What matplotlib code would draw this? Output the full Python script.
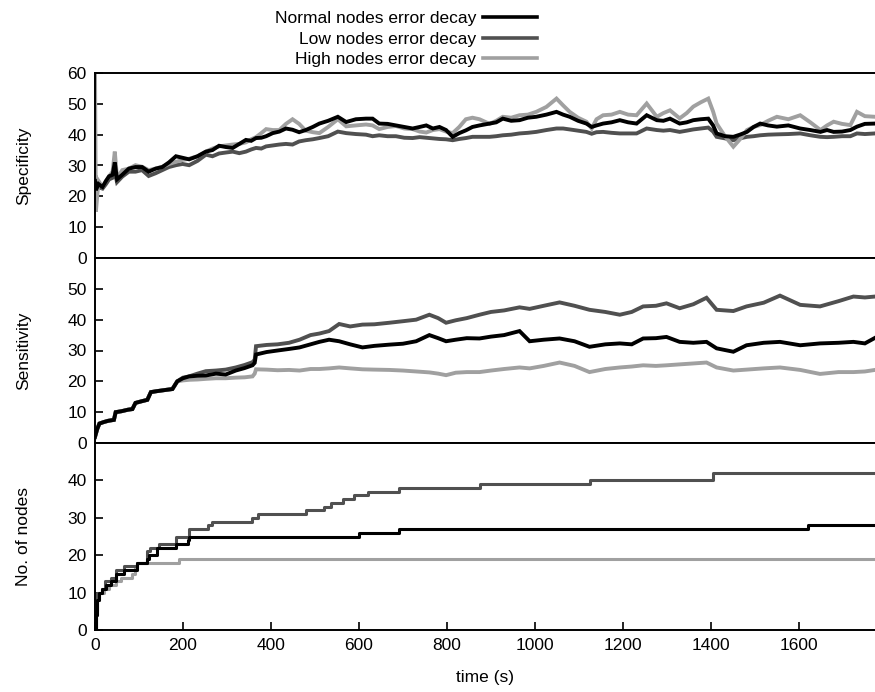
import matplotlib
matplotlib.use("Agg")
import matplotlib.pyplot as plt
from matplotlib.lines import Line2D

plt.rcParams['font.family'] = ['Liberation Sans', 'DejaVu Sans']
plt.rcParams['font.size'] = 12.5

labels = ["Normal nodes error decay", "Low nodes error decay", "High nodes error decay"]
colors = ["#000000", "#505050", "#a0a0a0"]

# ---------------- Specificity ----------------
t_spec = [0, 2, 8, 17, 25, 32, 40, 45, 50, 62, 77, 92, 107, 122, 138, 153, 168, 184, 199, 214,
          233, 252, 267, 282, 297, 313, 328, 343, 355, 366, 378, 389, 404, 419, 434, 449, 464, 479,
          495, 510, 530, 552, 571, 593, 616, 631, 646, 665, 684, 703, 722, 738, 753, 768, 783, 798,
          813, 828, 843, 858, 874, 897, 912, 927, 946, 965, 984, 1003, 1026, 1049, 1064, 1079, 1098,
          1117, 1129, 1140, 1155, 1174, 1193, 1212, 1231, 1254, 1277, 1292, 1307, 1329, 1345, 1360,
          1377, 1394, 1405, 1413, 1432, 1451, 1466, 1482, 1497, 1512, 1530, 1550, 1576, 1603, 1626,
          1649, 1664, 1679, 1698, 1717, 1732, 1750, 1773]
spec_normal = [25, 22, 24, 23, 25, 26.5, 27, 31, 25.5, 27, 29, 29.5, 29.5, 28, 29, 29.5, 31, 33, 32.5, 32,
               33, 34.5, 35, 36.4, 36, 35.7, 37, 38.3, 38, 38.9, 39, 39.5, 40.5, 41, 42, 41.6, 40.8, 41.5,
               42.5, 43.6, 44.5, 45.8, 44.1, 45, 45.2, 45.2, 43.6, 43.5, 43, 42.5, 42, 42.5, 43, 42, 42.5, 41.5,
               39.3, 40.5, 41.4, 42.5, 43, 43.6, 44, 45.2, 44.5, 44.7, 45.5, 45.8, 46.5, 47.4, 46.5, 45.8, 44.5,
               43.6, 42.5, 43, 43.6, 44, 44.7, 44, 43.6, 46.3, 44.7, 44.5, 45.2, 43.6, 44, 44.7,
               45, 45.2, 43, 40.4, 39.5, 39.3, 40, 40.9, 42.5, 43.6, 43, 42.6, 43, 42, 41.5,
               40.9, 41.5, 40.9, 41, 41.5, 42.6, 43.5, 43.6]
spec_low = [27, 22, 23, 22.5, 24, 25.5, 26, 28, 24.6, 26.4, 28, 28, 28.5, 26.6, 27.5, 28.5, 29.5, 30.1, 30.5, 30.1,
            31.5, 33.5, 33, 33.9, 34.2, 34.5, 34, 34.5, 35.2, 35.7, 35.5, 36.2, 36.5, 36.8, 37, 36.8, 37.8, 38.2,
            38.5, 38.9, 39.5, 41, 40.5, 40.2, 40, 39.5, 39.8, 39.5, 39.5, 39, 38.9, 39.2, 39, 38.8, 38.6, 38.5,
            38.2, 38.6, 38.9, 39.3, 39.3, 39.3, 39.5, 39.8, 40, 40.4, 40.6, 40.9, 41.5, 42, 42, 41.7, 41.3,
            40.9, 40.3, 40.8, 40.9, 40.6, 40.4, 40.4, 40.4, 42, 41.5, 41.3, 41.5, 40.9, 41.3, 41.7,
            42, 42.3, 41, 39.3, 38.8, 38.2, 38.8, 39.3, 39.5, 39.8, 40, 40.1, 40.2, 40.4, 39.8,
            39.3, 39.2, 39.3, 39.5, 39.5, 40.4, 40.2, 40.4]
spec_high = [60, 15, 25, 23, 25, 26.5, 28, 34.5, 26, 28.5, 29, 30.1, 29.6, 28.5, 29, 29.6, 30.5, 31.2, 31.8, 32.2,
             33, 34.5, 35.5, 36.2, 36.5, 36.8, 37, 37.5, 38.5, 39.2, 40.5, 41.8, 41.5, 41.5, 43.5, 45, 43.5, 41.3,
             40.8, 40.5, 42.5, 45, 42.7, 43, 43.3, 43, 41.8, 42.5, 42.8, 42, 41.8, 41, 40.7, 41.5, 41.8, 41,
             40.5, 42.5, 45, 45.5, 45, 43.5, 44.5, 45.8, 45.5, 46.3, 46.5, 47.4, 49, 51.7, 49.5, 47.4, 45.5,
             44.2, 42, 45, 46.3, 46.5, 47.4, 46.5, 46.3, 50.1, 45.8, 47, 47.9, 45.3, 47, 49.1,
             50.5, 51.7, 47.5, 43.6, 39.5, 36.1, 38.5, 41.5, 42.5, 43.1, 44.5, 45.8, 45, 46.3, 44,
             41.5, 43, 44.2, 43.5, 43.1, 47.4, 46, 45.8]

# ---------------- Sensitivity ----------------
t_sens = [0, 5, 10, 20, 30, 43, 47, 60, 75, 85, 92, 105, 119, 127, 140, 160, 176, 187, 200, 214, 233, 252,
          275, 297, 320, 340, 358, 363, 366, 390, 415, 441, 465, 490, 510, 532, 555, 580, 608, 635, 669, 700,
          730, 760, 780, 798, 820, 845, 874, 900, 930, 965, 988, 1020, 1056, 1090, 1124, 1160, 1193, 1220,
          1246, 1275, 1299, 1329, 1360, 1390, 1413, 1451, 1481, 1520, 1557, 1603, 1648, 1690, 1724, 1750, 1773]
sens_normal = [2, 4.5, 6.3, 6.8, 7.2, 7.5, 10, 10.3, 10.8, 11, 13, 13.5, 14, 16.5, 16.8, 17.2, 17.5, 20, 21, 21.6, 21.8, 21.9,
               22.5, 22.2, 23.5, 24.3, 25.2, 26, 28.7, 29.5, 30, 30.5, 31, 32, 32.8, 33.5, 33, 32, 31, 31.5, 31.9, 32.2,
               33, 35, 34, 33, 33.5, 34, 33.9, 34.5, 35, 36.3, 33, 33.5, 33.9, 33, 31.2, 32, 32.3, 32,
               33.9, 34, 34.4, 32.8, 32.5, 32.8, 30.7, 29.6, 31.7, 32.5, 32.8, 31.7, 32.3, 32.5, 32.8, 32.3, 34.1]
sens_low = [2, 4.5, 6.3, 6.8, 7.2, 7.5, 10, 10.3, 10.8, 11, 13, 13.5, 14, 16.5, 16.8, 17.2, 17.5, 20, 21.2, 21.6, 22.5, 23.3,
            23.5, 23.8, 24.5, 25.3, 26.2, 27, 31.4, 31.8, 32, 32.5, 33.5, 35, 35.5, 36.3, 38.6, 37.8, 38.4, 38.5, 39, 39.5,
            40, 41.6, 40.5, 39, 39.8, 40.5, 41.6, 42.5, 43, 44, 43.5, 44.5, 45.6, 44.5, 43.2, 42.5, 41.6, 42.5,
            44.3, 44.5, 45.3, 43.7, 45, 47.1, 43.2, 42.8, 44.3, 45.5, 47.8, 44.8, 44.3, 46, 47.5, 47.2, 47.5]
sens_high = [2, 4.5, 6.3, 6.8, 7.2, 7.5, 10, 10.3, 10.8, 11, 13, 13.5, 14, 16.5, 16.8, 17.2, 17.5, 20, 20.3, 20.5, 20.6, 20.8,
             21, 21, 21.2, 21.3, 21.6, 22.5, 23.9, 23.8, 23.6, 23.7, 23.5, 24, 24, 24.2, 24.5, 24.2, 23.9, 23.8, 23.7, 23.5,
             23.2, 22.9, 22.5, 22, 22.8, 23, 23, 23.5, 24, 24.5, 24.2, 25, 26.1, 25, 23, 24, 24.5, 24.8,
             25.2, 25, 25.2, 25.5, 25.8, 26.1, 24.5, 23.5, 23.8, 24.2, 24.5, 23.7, 22.4, 23, 23, 23.2, 23.7]

# ---------------- No. of nodes ----------------
t_nodes_normal = [0, 2, 5, 10, 17, 25, 36, 47, 66, 96, 119, 123, 142, 184, 211, 214, 601, 692, 1621, 1773]
nodes_normal = [0, 4, 8, 10, 11, 12, 13, 15, 16, 18, 19, 20, 22, 23, 24, 25, 26, 27, 28, 28]
t_nodes_low = [0, 2, 5, 17, 22, 36, 47, 66, 96, 119, 126, 146, 184, 214, 256, 267, 358, 370, 479, 521, 536,
               563, 589, 620, 692, 874, 1126, 1405, 1773]
nodes_low = [0, 5, 10, 11, 13, 14, 16, 17, 18, 21, 22, 23, 25, 27, 28, 29, 30, 31, 32, 33, 34,
             35, 36, 37, 38, 39, 40, 42, 42]
t_nodes_high = [0, 2, 5, 9, 20, 32, 47, 60, 85, 92, 96, 191, 1773]
nodes_high = [0, 4, 8, 10, 11, 12, 13, 14, 15, 17, 18, 19, 19]

xmax = 1773

fig = plt.figure(figsize=(8.75, 6.92), dpi=100)
L, R = 95 / 875, 1.0
tops = [73, 258, 443, 630]
axes = []
for i in range(3):
    y0 = 1 - tops[i + 1] / 692
    y1 = 1 - tops[i] / 692
    ax = fig.add_axes([L, y0, R - L, y1 - y0])
    axes.append(ax)

ax1, ax2, ax3 = axes

order = [1, 2, 0]
spec = [spec_normal, spec_low, spec_high]
sens = [sens_normal, sens_low, sens_high]
for i in order:
    ax1.plot(t_spec, spec[i], color=colors[i], lw=2.8, solid_joinstyle='miter')
    ax2.plot(t_sens, sens[i], color=colors[i], lw=2.8, solid_joinstyle='miter')

nodes_t = [t_nodes_normal, t_nodes_low, t_nodes_high]
nodes_v = [nodes_normal, nodes_low, nodes_high]
for i in [2, 1, 0]:
    ax3.plot(nodes_t[i], nodes_v[i], color=colors[i], lw=2.2, drawstyle='steps-post')

ax1.set_ylim(0, 60)
ax1.set_yticks([0, 10, 20, 30, 40, 50, 60])
ax2.set_ylim(0, 60)
ax2.set_yticks([0, 10, 20, 30, 40, 50])
ax3.set_ylim(0, 50)
ax3.set_yticks([0, 10, 20, 30, 40])

for ax in axes:
    ax.set_xlim(0, xmax)
    ax.spines['right'].set_visible(False)
    for s in ['left', 'top', 'bottom']:
        ax.spines[s].set_linewidth(1.4)
    ax.tick_params(axis='y', direction='in', length=6, width=1.2, left=True, right=False, pad=6)
    ax.tick_params(axis='x', direction='in', length=6, width=1.2, top=False)

for ax in [ax1, ax2]:
    ax.tick_params(axis='x', bottom=False, labelbottom=False)
ax3.set_xticks([0, 200, 400, 600, 800, 1000, 1200, 1400, 1600])
ax3.tick_params(axis='x', pad=6)

ax1.set_ylabel("Specificity")
ax2.set_ylabel("Sensitivity")
ax3.set_ylabel("No. of nodes")
for ax in axes:
    ax.yaxis.set_label_coords(-0.082, 0.5)
ax3.set_xlabel("time (s)", labelpad=12)

handles = [Line2D([], [], color=c, lw=2.6) for c in colors]
fig.legend(handles, labels, loc='upper right', bbox_to_anchor=(548 / 875, 1.0),
           frameon=False, markerfirst=False, handlelength=3.1, handletextpad=0.4,
           labelspacing=0.3, borderaxespad=0.25, fontsize=12.5)

fig.savefig("out.png", dpi=100)
